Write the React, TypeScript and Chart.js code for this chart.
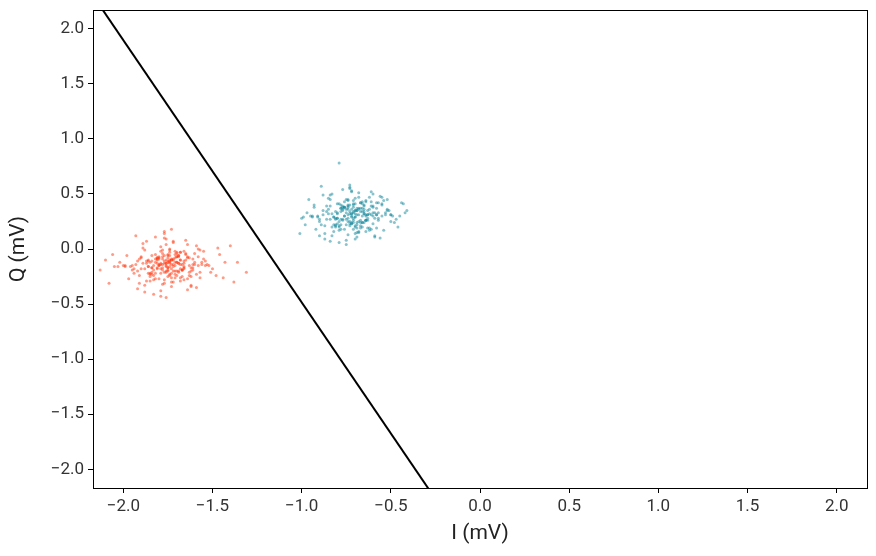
import React, { useEffect, useRef } from "react";
import { Chart, registerables } from "chart.js";

Chart.register(...registerables);

const X_TICKS = [-2.0, -1.5, -1.0, -0.5, 0.0, 0.5, 1.0, 1.5, 2.0];
const Y_TICKS = [-2.0, -1.5, -1.0, -0.5, 0.0, 0.5, 1.0, 1.5, 2.0];
const AXIS_MIN = -2.17;
const AXIS_MAX = 2.17;

const LINE_X = [-2.2, -0.25];
const LINE_Y = [2.372, -2.269];

const RED_X = [
-1.75,-1.82,-1.68,-1.91,-1.73,-1.60,-1.79,-1.86,-1.71,-1.64,
-1.77,-1.95,-1.70,-1.58,-1.83,-1.74,-1.66,-1.89,-1.76,-1.69,
-1.81,-1.72,-1.55,-1.93,-1.78,-1.63,-1.85,-1.74,-1.67,-1.99,
-1.73,-1.80,-1.61,-1.88,-1.76,-1.70,-1.52,-1.84,-1.75,-1.65,
-1.90,-1.78,-1.68,-1.57,-1.82,-1.71,-2.02,-1.74,-1.62,-1.87,
-1.77,-1.69,-1.94,-1.73,-1.59,-1.80,-1.66,-1.83,-1.75,-1.48,
-1.72,-1.86,-1.64,-1.79,-1.97,-1.70,-1.76,-1.56,-1.84,-1.68,
-1.74,-1.91,-1.61,-1.78,-1.71,-1.85,-1.53,-1.77,-1.67,-1.92,
-1.73,-1.81,-1.63,-1.88,-1.75,-1.60,-1.79,-2.05,-1.69,-1.82,
-1.76,-1.66,-1.87,-1.72,-1.50,-1.80,-1.74,-1.95,-1.65,-1.78,
-1.70,-1.84,-1.58,-1.77,-1.89,-1.73,-1.62,-1.81,-1.75,-1.98,
-1.68,-1.79,-1.55,-1.86,-1.71,-1.64,-1.83,-1.76,-1.93,-1.69,
-1.74,-1.46,-1.80,-1.67,-1.88,-1.72,-1.59,-1.85,-1.77,-1.62,
-1.90,-1.75,-1.70,-1.82,-1.57,-1.78,-2.00,-1.73,-1.65,-1.87,
-1.76,-1.61,-1.84,-1.71,-1.96,-1.79,-1.54,-1.68,-1.81,-1.74,
-1.63,-1.89,-1.77,-1.70,-1.43,-1.83,-1.75,-1.66,-1.92,-1.72,
-1.80,-1.58,-1.86,-1.73,-1.67,-2.08,-1.78,-1.60,-1.85,-1.71,
-1.76,-1.94,-1.64,-1.82,-1.69,-1.51,-1.79,-1.74,-1.88,-1.66,
-1.72,-1.81,-1.56,-1.77,-1.91,-1.68,-1.84,-1.62,-1.75,-1.99,
-2.13,-1.31,-1.36,-2.06,-1.40,-2.10,-1.44,-1.47,-2.03,-1.38,
-1.72,-1.78,-1.69,-1.81,-1.74,-1.66,-1.77,-1.84,-1.70,-1.63,
-1.76,-1.80,-1.67,-1.73,-1.86,-1.71,-1.79,-1.65,-1.75,-1.82,
-1.68,-1.74,-1.90,-1.62,-1.77,-1.71,-1.83,-1.59,-1.76,-1.69,
-1.73,-1.87,-1.64,-1.79,-1.72,-1.57,-1.81,-1.75,-1.66,-1.78,
-1.70,-1.85,-1.61,-1.74,-1.92,-1.68,-1.76,-1.54,-1.80,-1.73
];
const RED_Y = [
-0.12,-0.05,-0.18,-0.09,-0.22,-0.14,0.02,-0.16,-0.08,-0.27,
-0.11,-0.19,-0.03,-0.15,-0.24,-0.10,-0.13,0.05,-0.20,-0.07,
-0.17,-0.30,-0.09,-0.14,-0.01,-0.21,-0.12,-0.06,-0.25,-0.16,
-0.10,-0.08,-0.19,-0.33,-0.13,-0.04,-0.15,-0.23,-0.11,0.08,
-0.18,-0.07,-0.14,-0.26,-0.09,-0.20,-0.12,0.00,-0.17,-0.29,
-0.06,-0.13,-0.22,-0.10,-0.35,-0.15,-0.02,-0.19,-0.08,-0.24,
-0.14,-0.11,0.04,-0.18,-0.27,-0.07,-0.16,-0.12,-0.21,-0.03,
-0.13,-0.31,-0.09,-0.17,-0.05,-0.23,-0.14,0.10,-0.19,-0.11,
-0.26,-0.08,-0.15,-0.01,-0.20,-0.12,-0.38,-0.16,-0.06,-0.22,
-0.10,-0.28,-0.13,0.06,-0.18,-0.09,-0.24,-0.15,-0.04,-0.32,
-0.12,-0.17,-0.07,-0.21,0.01,-0.14,-0.25,-0.10,-0.19,-0.06,
-0.29,-0.13,-0.02,-0.16,-0.23,-0.08,-0.41,-0.15,0.12,-0.20,
-0.11,-0.05,-0.27,-0.14,-0.18,-0.09,0.03,-0.22,-0.13,-0.34,
-0.07,-0.17,-0.24,-0.12,-0.01,-0.19,-0.15,-0.30,-0.10,0.07,
-0.21,-0.14,-0.06,-0.26,-0.16,-0.43,-0.11,-0.03,-0.18,-0.23,
-0.08,-0.13,0.14,-0.20,-0.12,-0.28,-0.05,-0.17,-0.36,-0.10,
-0.15,0.00,-0.22,-0.09,-0.19,-0.31,-0.14,-0.04,-0.25,-0.12,
0.09,-0.18,-0.07,-0.27,-0.13,-0.21,-0.02,-0.16,-0.39,-0.11,
-0.20,-0.08,-0.14,0.16,-0.24,-0.10,-0.17,-0.33,-0.06,-0.15,
-0.19,-0.21,-0.12,-0.05,0.03,-0.10,-0.26,0.01,-0.16,-0.30,
-0.16,-0.09,-0.21,-0.13,-0.03,-0.18,-0.28,-0.11,-0.07,-0.24,
0.04,-0.14,-0.19,-0.34,-0.10,-0.15,-0.22,-0.05,-0.17,0.11,
-0.26,-0.12,-0.08,-0.20,-0.31,-0.02,-0.15,-0.23,-0.13,-0.06,
-0.18,-0.11,-0.37,-0.14,0.07,-0.21,-0.09,-0.25,-0.16,-0.04,
-0.12,-0.29,-0.17,-0.01,-0.20,-0.10,-0.44,-0.15,-0.07,0.18
];

const TEAL_X = [
-0.71,-0.78,-0.64,-0.85,-0.69,-0.58,-0.74,-0.81,-0.66,-0.61,
-0.73,-0.90,-0.67,-0.55,-0.79,-0.70,-0.62,-0.84,-0.72,-0.65,
-0.77,-0.68,-0.52,-0.88,-0.74,-0.60,-0.80,-0.70,-0.63,-0.94,
-0.69,-0.76,-0.57,-0.83,-0.72,-0.66,-0.49,-0.79,-0.71,-0.61,
-0.86,-0.74,-0.64,-0.54,-0.78,-0.67,-0.97,-0.70,-0.59,-0.82,
-0.73,-0.65,-0.89,-0.69,-0.56,-0.76,-0.62,-0.79,-0.71,-0.46,
-0.68,-0.81,-0.60,-0.75,-0.92,-0.66,-0.72,-0.53,-0.80,-0.64,
-0.70,-0.87,-0.58,-0.74,-0.67,-0.81,-0.50,-0.73,-0.63,-0.88,
-0.69,-0.77,-0.60,-0.84,-0.71,-0.57,-0.75,-0.99,-0.65,-0.78,
-0.72,-0.62,-0.83,-0.68,-0.47,-0.76,-0.70,-0.91,-0.61,-0.74,
-0.66,-0.80,-0.55,-0.73,-0.85,-0.69,-0.58,-0.77,-0.71,-0.93,
-0.64,-0.75,-0.52,-0.82,-0.67,-0.60,-0.79,-0.72,-0.89,-0.65,
-0.70,-0.44,-0.76,-0.63,-0.84,-0.68,-0.56,-0.81,-0.73,-0.59,
-0.86,-0.71,-0.66,-0.78,-0.54,-0.74,-0.95,-0.69,-0.62,-0.83,
-0.72,-0.58,-0.80,-0.67,-0.91,-0.75,-0.51,-0.64,-0.77,-0.70,
-0.60,-0.85,-0.73,-0.66,-0.42,-0.79,-0.71,-0.63,-0.87,-0.68,
-0.76,-0.55,-0.82,-0.69,-0.64,-1.01,-0.74,-0.57,-0.81,-0.67,
-0.72,-0.90,-0.61,-0.78,-0.65,-0.48,-0.75,-0.70,-0.84,-0.63,
-0.68,-0.77,-0.53,-0.73,-0.87,-0.65,-0.80,-0.59,-0.71,-0.94,
-0.79,-1.00,-0.41,-0.98,-0.43,-0.90,-0.45,-0.96,-0.50,-0.93,
-0.70,-0.75,-0.66,-0.79,-0.72,-0.62,-0.74,-0.81,-0.68,-0.59,
-0.73,-0.77,-0.64,-0.70,-0.84,-0.67,-0.76,-0.61,-0.71,-0.78,
-0.65,-0.72,-0.88,-0.57,-0.74,-0.69,-0.80,-0.55,-0.73,-0.66,
-0.71,-0.83,-0.60,-0.76,-0.68,-0.52,-0.78,-0.72,-0.63,-0.75,
-0.67,-0.82,-0.58,-0.70,-0.86,-0.64,-0.74,-0.50,-0.77,-0.69
];
const TEAL_Y = [
0.33,0.40,0.26,0.36,0.22,0.31,0.45,0.28,0.37,0.18,
0.34,0.25,0.42,0.30,0.20,0.35,0.32,0.49,0.24,0.39,
0.27,0.15,0.36,0.31,0.44,0.23,0.33,0.41,0.19,0.29,
0.35,0.38,0.26,0.12,0.32,0.43,0.30,0.21,0.34,0.52,
0.27,0.39,0.31,0.17,0.37,0.24,0.33,0.46,0.28,0.16,
0.40,0.32,0.22,0.35,0.10,0.30,0.47,0.25,0.38,0.20,
0.31,0.34,0.50,0.27,0.18,0.41,0.29,0.33,0.23,0.44,
0.32,0.14,0.37,0.28,0.42,0.21,0.31,0.55,0.26,0.35,
0.19,0.39,0.30,0.45,0.24,0.33,0.08,0.29,0.40,0.22,
0.36,0.17,0.32,0.51,0.27,0.38,0.20,0.30,0.43,0.13,
0.34,0.28,0.41,0.23,0.46,0.31,0.19,0.36,0.26,0.40,
0.16,0.33,0.45,0.29,0.21,0.39,0.06,0.30,0.57,0.24,
0.35,0.42,0.18,0.31,0.27,0.37,0.48,0.22,0.32,0.11,
0.39,0.28,0.20,0.34,0.44,0.25,0.30,0.15,0.36,0.50,
0.23,0.31,0.41,0.19,0.29,0.04,0.35,0.43,0.26,0.21,
0.38,0.32,0.58,0.24,0.33,0.17,0.40,0.28,0.09,0.36,
0.30,0.47,0.22,0.37,0.26,0.14,0.31,0.42,0.20,0.34,
0.53,0.27,0.39,0.18,0.32,0.24,0.45,0.29,0.07,0.35,
0.25,0.38,0.31,0.56,0.21,0.36,0.28,0.12,0.41,0.30,
0.78,0.28,0.35,0.22,0.41,0.12,0.30,0.45,0.25,0.38,
0.29,0.36,0.24,0.41,0.32,0.19,0.38,0.27,0.47,0.33,
0.21,0.35,0.30,0.14,0.39,0.26,0.43,0.31,0.18,0.37,
0.34,0.23,0.49,0.28,0.36,0.11,0.32,0.40,0.25,0.30,
0.44,0.20,0.33,0.38,0.16,0.35,0.27,0.52,0.31,0.22,
0.37,0.29,0.42,0.09,0.34,0.26,0.40,0.31,0.54,0.24
];

const FONT = "Roboto, 'DejaVu Sans', sans-serif";

const fmt = (v: number) => (v < 0 ? "\u2212" : "") + Math.abs(v).toFixed(1);

const frame = {
  id: "frame",
  afterDraw(chart: any) {
    const { ctx, chartArea } = chart;
    ctx.save();
    ctx.strokeStyle = "#000";
    ctx.lineWidth = 1;
    ctx.strokeRect(
      Math.round(chartArea.left) + 0.5,
      Math.round(chartArea.top) + 0.5,
      Math.round(chartArea.right - chartArea.left),
      Math.round(chartArea.bottom - chartArea.top)
    );
    ctx.restore();
  },
};

export default function App() {
  const ref = useRef<HTMLCanvasElement | null>(null);
  useEffect(() => {
    document.body.style.margin = "0";
    const red = RED_X.map((x, i) => ({ x, y: RED_Y[i] }));
    const teal = TEAL_X.map((x, i) => ({ x, y: TEAL_Y[i] }));
    const line = LINE_X.map((x, i) => ({ x, y: LINE_Y[i] }));
    const axis = (ticks: number[], title: string, isX: boolean) => ({
      type: "linear" as const,
      min: AXIS_MIN,
      max: AXIS_MAX,
      afterBuildTicks: (s: any) => {
        s.ticks = ticks.map((v) => ({ value: v }));
      },
      afterFit: (s: any) => {
        if (isX) {
          s.height = 68;
          s.paddingLeft = 0;
          s.paddingRight = 0;
        } else {
          s.width = 93;
          s.paddingTop = 0;
          s.paddingBottom = 0;
        }
      },
      border: { display: true, color: "#000", width: 1 },
      grid: {
        display: true,
        drawOnChartArea: false,
        drawTicks: true,
        tickLength: 5,
        tickColor: "#000",
        color: "#000",
      },
      ticks: {
        color: "#333",
        font: { family: FONT, size: 17 },
        padding: 4,
        callback: (v: any) => fmt(Number(v)),
      },
      title: {
        display: true,
        text: title,
        color: "#222",
        font: { family: FONT, size: 21 },
        padding: isX ? { top: 2, bottom: 10 } : { top: 6, bottom: 4 },
      },
    });
    const chart = new Chart(ref.current!, {
      type: "scatter",
      data: {
        datasets: [
          {
            data: red,
            pointRadius: 1.5,
            pointBorderWidth: 0,
            pointBackgroundColor: "rgba(255,55,15,0.5)",
            backgroundColor: "rgba(255,55,15,0.5)",
          },
          {
            data: teal,
            pointRadius: 1.5,
            pointBorderWidth: 0,
            pointBackgroundColor: "rgba(20,135,155,0.5)",
            backgroundColor: "rgba(20,135,155,0.5)",
          },
          {
            type: "line",
            data: line,
            borderColor: "#000",
            borderWidth: 2,
            pointRadius: 0,
            showLine: true,
            fill: false,
          } as any,
        ],
      },
      options: {
        animation: false,
        responsive: false,
        maintainAspectRatio: false,
        layout: { padding: { top: 10, right: 9, left: 0, bottom: 0 } },
        plugins: { legend: { display: false }, tooltip: { enabled: false } },
        scales: {
          x: axis(X_TICKS, "I (mV)", true),
          y: axis(Y_TICKS, "Q (mV)", false),
        },
      },
      plugins: [frame],
    });
    return () => chart.destroy();
  }, []);
  return (
    <div style={{ position: "fixed", left: 0, top: 0, width: 876, height: 556, background: "#fff" }}>
      <canvas ref={ref} width={876} height={556} style={{ width: 876, height: 556 }} />
    </div>
  );
}
